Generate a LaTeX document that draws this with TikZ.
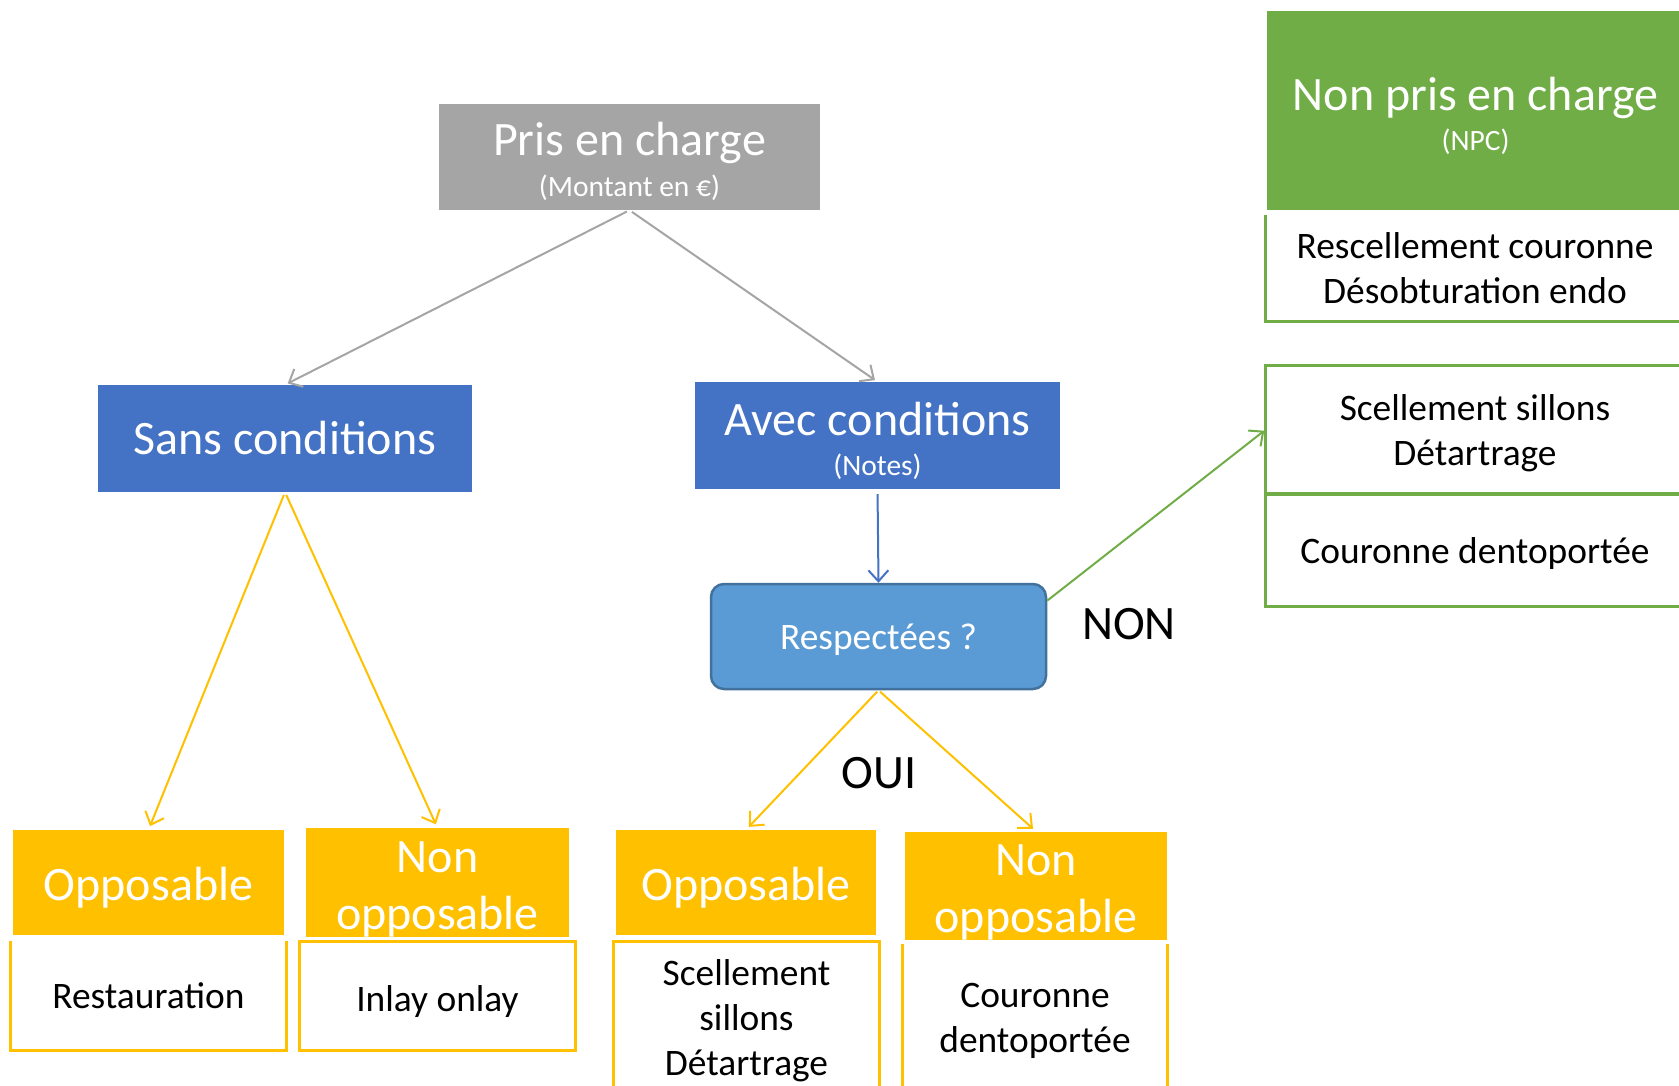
\documentclass[tikz,border=0pt]{standalone}
\usepackage{fontspec}
\setmainfont{Carlito}
\usepackage{xcolor}
\usetikzlibrary{arrows.meta}

\definecolor{gris}{HTML}{A5A5A5}
\definecolor{bleu}{HTML}{4472C4}
\definecolor{bleuclair}{HTML}{5B9BD5}
\definecolor{bleubord}{HTML}{41719C}
\definecolor{jaune}{HTML}{FFC000}
\definecolor{vert}{HTML}{70AD47}

\newcommand{\grand}{\fontsize{48}{57}\selectfont}
\newcommand{\petit}{\fontsize{29.5}{34}\selectfont}
\newcommand{\moyen}{\fontsize{37.4}{45}\selectfont}

\begin{document}
\begin{tikzpicture}[x=1pt,y=-1pt,
    titre/.style={inner sep=0pt,text=white,align=center,font=\grand},
    liste/.style={inner sep=0pt,align=center,font=\moyen},
    descendre/.style={execute at begin node={\rule{0pt}{#1}}},
    fleche/.style={line width=2pt,-{Straight Barb[length=11pt,width=20pt]}},
    bord/.style={line width=3pt}]
        \useasboundingbox (0,0) rectangle (1679,1085);

        % Haut
        \node[titre,fill=gris,minimum width=381pt,minimum height=106pt,descendre=84pt] (pec) at (629.5,157)
            {Pris en charge\\[-16pt]{\petit (Montant en €)}};
        \node[titre,fill=bleu,minimum width=374pt,minimum height=107pt] (sans) at (285,438.5) {Sans conditions};
        \node[titre,fill=bleu,minimum width=365pt,minimum height=107pt,descendre=84pt] (avec) at (877.5,435.5)
            {Avec conditions\\[-17pt]{\petit (Notes)}};
        \node[titre,fill=bleuclair,draw=bleubord,line width=2.5pt,rounded corners=13pt,descendre=33pt,
            minimum width=335pt,minimum height=105pt,font=\moyen] (resp) at (878.5,636.5) {Respectées ?};
        \node[font=\grand] (non) at (1129,624) {NON};
        \node[font=\grand] (oui) at (879,773) {OUI};

        % Non pris en charge
        \node[titre,fill=vert,minimum width=417pt,minimum height=199pt,descendre=85pt] (npc) at (1475.5,110.5)
            {Non pris en charge\\[-17pt]{\petit (NPC)}};
        \node[liste,minimum width=418pt,minimum height=106pt] (rescel) at (1475,268)
            {Rescellement couronne\\Désobturation endo};
        \node[liste,minimum width=418pt,minimum height=127pt,descendre=78pt] (scelnpc) at (1475,429.5)
            {Scellement sillons\\Détartrage};
        \node[liste,minimum width=418pt,minimum height=111pt,descendre=33pt] (cournpc) at (1475,550.5)
            {Couronne dentoportée};

        % Bas
        \node[titre,fill=jaune,minimum width=271pt,minimum height=105pt,descendre=43pt] (opp1) at (148.5,882.5) {Opposable};
        \node[titre,fill=jaune,minimum width=263pt,minimum height=105pt,descendre=101pt] (nopp1) at (437.5,882.5) {Non\\opposable};
        \node[titre,fill=jaune,minimum width=260pt,minimum height=105pt,descendre=43pt] (opp2) at (746,882.5) {Opposable};
        \node[titre,fill=jaune,minimum width=262pt,minimum height=106pt,descendre=101pt] (nopp2) at (1036,886) {Non\\opposable};
        \node[liste,minimum width=275pt,minimum height=109pt] (rest) at (148.5,995.5) {Restauration};
        \node[liste,minimum width=275pt,minimum height=108pt,descendre=37pt] (inlay) at (437.5,996) {Inlay onlay};
        \node[liste,minimum width=265pt,minimum height=150pt,descendre=124pt] (scell) at (746.5,1017)
            {Scellement\\sillons\\Détartrage};
        \node[liste,minimum width=264pt,minimum height=148pt,descendre=75pt] (cour) at (1035,1018)
            {Couronne\\dentoportée};

        % Bordures
        \draw[bord,jaune] (rest.north west) -- (rest.south west) -- (rest.south east) -- (rest.north east);
        \draw[bord,jaune] (inlay.north west) rectangle (inlay.south east);
        \draw[bord,jaune] (scell.south west) -- (scell.north west) -- (scell.north east) -- (scell.south east);
        \draw[bord,jaune] (cour.north west) -- (cour.south west);
        \draw[bord,jaune] (cour.north east) -- (cour.south east);
        \draw[bord,vert] (rescel.north west) -- (rescel.south west) -- (rescel.south east);
        \draw[bord,vert] (scelnpc.north east) -- (scelnpc.north west) -- (scelnpc.south west) -- (scelnpc.south east);
        \draw[bord,vert] (cournpc.north east) -- (cournpc.north west) -- (cournpc.south west) -- (cournpc.south east);

        % Fleches
        \draw[fleche,gris,shorten <=3pt,shorten >=3pt] (pec.south) -- (sans.north);
        \draw[fleche,gris,shorten <=3pt,shorten >=3pt] (pec.south) -- (avec.north);
        \draw[fleche,bleu,shorten <=5pt] (avec.south) -- (resp.north);
        \draw[fleche,jaune,shorten <=3pt,shorten >=4pt] (sans.south) -- (opp1.north);
        \draw[fleche,jaune,shorten <=3pt,shorten >=4pt] (sans.south) -- (nopp1.north);
        \draw[fleche,jaune,shorten <=2pt,shorten >=4pt] (resp.south) -- (opp2.north);
        \draw[fleche,jaune,shorten <=2pt,shorten >=4pt] (resp.south) -- (nopp2.north);
        \draw[fleche,vert,shorten >=2pt] (resp.12) -- (scelnpc.west);
    \end{tikzpicture}
\end{document}
